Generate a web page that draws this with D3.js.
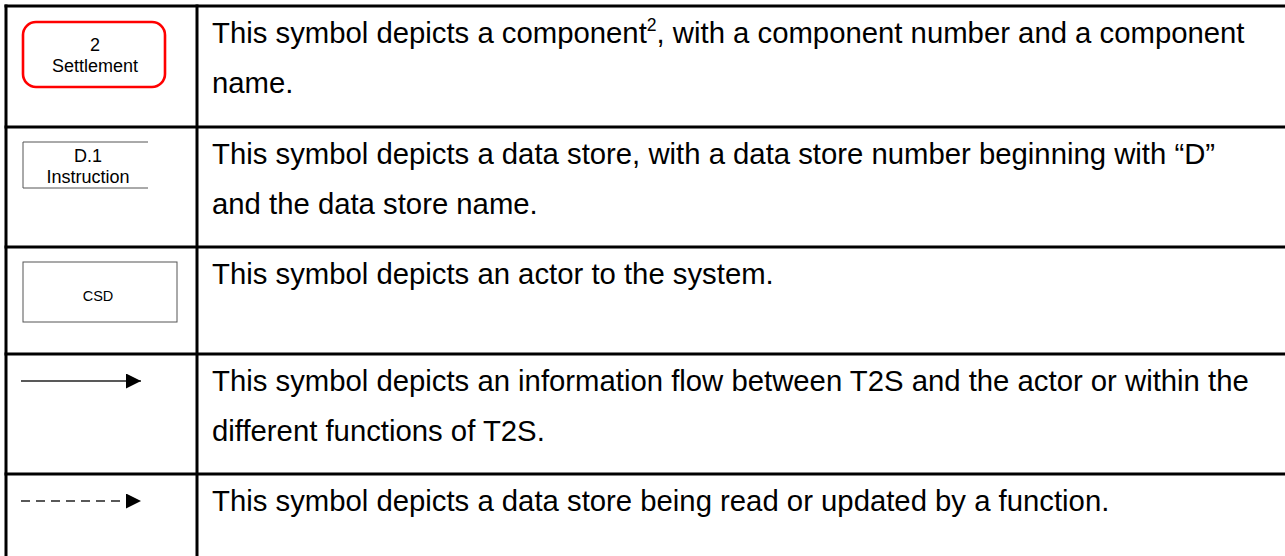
<!DOCTYPE html>
<html>
<head>
<meta charset="utf-8">
<script src="https://cdn.jsdelivr.net/npm/d3@7"></script>
<style>
  html, body { margin: 0; padding: 0; background: #fff; }
  svg { display: block; }
  text { font-family: Arial, "Liberation Sans", sans-serif; fill: #000; }
</style>
</head>
<body>
<svg id="chart" width="1285" height="556"></svg>
<script>
// ---- data ----
const symbolTypes = ["component", "datastore", "actor", "flow", "read"];
const symbolLabels = [["2", "Settlement"], ["D.1", "Instruction"], ["CSD"], [], []];
const descriptionLines = [
  [["This symbol depicts a component", "2", ", with a component number and a component"], ["name."]],
  [["This symbol depicts a data store, with a data store number beginning with \u201cD\u201d"], ["and the data store name."]],
  [["This symbol depicts an actor to the system."]],
  [["This symbol depicts an information flow between T2S and the actor or within the"], ["different functions of T2S."]],
  [["This symbol depicts a data store being read or updated by a function."]]
];

// ---- layout ----
const W = 1285, H = 556;
const rowEdges = [6, 127, 247, 354, 474, 620];
const colLeft = 6, colDiv = 197, colRight = 1300;
const mainFont = 29.3, lineGap = 50, firstBase = 37;

const svg = d3.select("#chart");
const rowIdx = d3.range(symbolTypes.length);

const yTop = d3.scaleOrdinal().domain(rowIdx).range(rowEdges.slice(0, -1));

// defs: arrow marker
const defs = svg.append("defs");
defs.append("marker")
  .attr("id", "arrow")
  .attr("viewBox", "0 0 10 10")
  .attr("refX", 10).attr("refY", 5)
  .attr("markerUnits", "userSpaceOnUse")
  .attr("markerWidth", 15).attr("markerHeight", 15)
  .attr("orient", "auto")
  .append("path").attr("d", "M0,0L10,5L0,10Z").attr("fill", "#000");

// grid lines
const grid = svg.append("g").attr("stroke", "#000").attr("stroke-width", 3);
grid.selectAll("line.h").data(rowEdges.slice(0, -1)).join("line")
  .attr("class", "h")
  .attr("x1", colLeft - 1.5).attr("x2", colRight)
  .attr("y1", d => d).attr("y2", d => d);
grid.append("line").attr("x1", colLeft).attr("x2", colLeft).attr("y1", rowEdges[0] - 1.5).attr("y2", H + 10);
grid.append("line").attr("x1", colDiv).attr("x2", colDiv).attr("y1", rowEdges[0] - 1.5).attr("y2", H + 10);

// symbols
const sym = svg.append("g").selectAll("g").data(rowIdx).join("g")
  .attr("transform", i => `translate(0,${yTop(i)})`);

sym.each(function (i) {
  const g = d3.select(this);
  const type = symbolTypes[i];
  const labels = symbolLabels[i];
  if (type === "component") {
    g.append("rect").attr("x", 23).attr("y", 16).attr("width", 142).attr("height", 65)
      .attr("rx", 13).attr("ry", 13)
      .attr("fill", "#fff").attr("stroke", "#ff0000").attr("stroke-width", 2.6);
    g.selectAll("text").data(labels).join("text")
      .attr("x", 95).attr("y", (d, k) => 45 + k * 21)
      .attr("text-anchor", "middle").attr("font-size", 18).text(d => d);
  } else if (type === "datastore") {
    const x0 = 23, x1 = 148, y0 = 15, y1 = 61;
    g.append("path").attr("d", `M${x1},${y0}H${x0}V${y1}H${x1}`)
      .attr("fill", "none").attr("stroke", "#555").attr("stroke-width", 1);
    g.selectAll("text").data(labels).join("text")
      .attr("x", 88).attr("y", (d, k) => 35 + k * 21)
      .attr("text-anchor", "middle").attr("font-size", 18).text(d => d);
  } else if (type === "actor") {
    g.append("rect").attr("x", 23).attr("y", 15).attr("width", 154).attr("height", 60)
      .attr("fill", "#fff").attr("stroke", "#555").attr("stroke-width", 1);
    g.selectAll("text").data(labels).join("text")
      .attr("x", 98).attr("y", 54)
      .attr("text-anchor", "middle").attr("font-size", 14.5).text(d => d);
  } else if (type === "flow") {
    g.append("line").attr("x1", 21).attr("x2", 141).attr("y1", 27).attr("y2", 27)
      .attr("stroke", "#222").attr("stroke-width", 1.6).attr("marker-end", "url(#arrow)");
  } else if (type === "read") {
    g.append("line").attr("x1", 21).attr("x2", 126).attr("y1", 27).attr("y2", 27)
      .attr("stroke", "#222").attr("stroke-width", 1.6).attr("stroke-dasharray", "9,6");
    g.append("line").attr("x1", 126).attr("x2", 141).attr("y1", 27).attr("y2", 27)
      .attr("stroke", "none").attr("marker-end", "url(#arrow)");
  }
});

// descriptions
sym.each(function (i) {
  const g = d3.select(this);
  const lines = descriptionLines[i];
  const t = g.selectAll("text.desc").data(lines).join("text")
    .attr("class", "desc")
    .attr("x", 212).attr("y", (d, k) => firstBase + k * lineGap)
    .attr("font-size", mainFont);
  t.each(function (parts) {
    const te = d3.select(this);
    parts.forEach((p, j) => {
      const ts = te.append("tspan").text(p);
      if (j === 1 && parts.length === 3) {
        ts.attr("font-size", mainFont * 0.6).attr("dy", -12);
      } else if (j === 2) {
        ts.attr("dy", 12);
      }
    });
  });
});
</script>
</body>
</html>
